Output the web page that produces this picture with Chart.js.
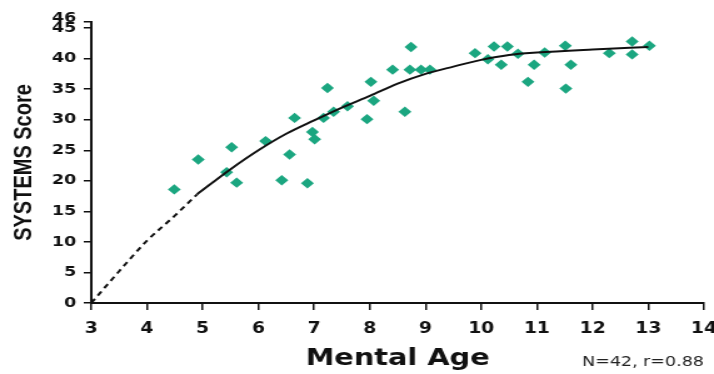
<!DOCTYPE html>
<html>
<head>
<meta charset="utf-8">
<script src="https://cdn.jsdelivr.net/npm/chart.js@4.4.1/dist/chart.umd.min.js"></script>
<style>
  body { margin: 0; background: #fff; }
</style>
</head>
<body>
<!-- the source picture is stretched sideways, so the canvas is drawn narrow and widened -->
<canvas id="myChart" width="571" height="374" style="width:714px;height:374px;display:block"></canvas>
<script>
    // scatter points (mental age, SYSTEMS score)
    const mentalAge = [4.49, 4.92, 5.43, 5.52, 5.61, 6.13, 6.42, 6.56, 6.65, 6.88, 6.97, 7.01, 7.17, 7.24, 7.35, 7.60, 7.95, 8.02, 8.07, 8.41, 8.63, 8.74, 8.72, 8.92, 9.08,
                       9.89, 10.12, 10.23, 10.36, 10.47, 10.66, 10.84, 10.95, 11.14, 11.51, 11.52, 11.61, 12.30, 12.71, 12.71, 13.02]
    const systemsScore = [18.6, 23.5, 21.4, 25.5, 19.7, 26.5, 20.1, 24.3, 30.3, 19.6, 28.0, 26.8, 30.3, 35.2, 31.3, 32.2, 30.1, 36.2, 33.1, 38.2, 31.3, 41.9, 38.2, 38.2, 38.2,
                          40.9, 39.9, 42.0, 39.0, 42.0, 40.8, 36.2, 39.0, 41.0, 42.1, 35.1, 39.0, 40.9, 42.8, 40.7, 42.1]

    // fitted curve
    const fitAge = [4.9, 5.5, 6, 6.5, 7, 7.5, 8, 8.5, 9, 9.5, 10, 10.5, 11, 12, 13]
    const fitScore = [17.8, 21.9, 25.0, 27.7, 29.9, 32.0, 33.9, 35.9, 37.5, 38.7, 39.8, 40.6, 41.0, 41.5, 41.9]

    // dashed extrapolation down to the origin
    const extAge = [3, 3.5, 4, 4.5, 4.9]
    const extScore = [0, 5.2, 10.2, 14.3, 17.8]

    const xTicks = [3, 4, 5, 6, 7, 8, 9, 10, 11, 12, 13, 14]
    const yTicks = [0, 5, 10, 15, 20, 25, 30, 35, 40, 45, 46]

    const xTitle = 'Mental Age'
    const yTitle = 'SYSTEMS Score'
    const noteText = 'N=42, r=0.88'

    function pairs(xs, ys) {
      return xs.map(function (x, i) { return {x: x, y: ys[i]} })
    }

    // the "N=..., r=..." note at bottom right
    const notePlugin = {
      id: 'note',
      afterDraw(chart) {
        const ctx = chart.ctx
        ctx.save()
        ctx.font = '14px "DejaVu Sans"'
        ctx.fillStyle = '#222'
        ctx.textAlign = 'right'
        ctx.textBaseline = 'alphabetic'
        ctx.fillText(noteText, chart.chartArea.right, 366)
        ctx.restore()
      }
    }

    var ctx = document.getElementById('myChart').getContext('2d');
    var chart = new Chart(ctx, {
      type: 'scatter',
      data: {
        datasets: [{
          label: 'fit',
          data: pairs(fitAge, fitScore),
          showLine: true,
          borderColor: '#111',
          borderWidth: 2,
          pointRadius: 0,
          cubicInterpolationMode: 'monotone'
        }, {
          label: 'extrapolation',
          data: pairs(extAge, extScore),
          showLine: true,
          borderColor: '#111',
          borderWidth: 2,
          borderDash: [5, 4],
          pointRadius: 0,
          cubicInterpolationMode: 'monotone'
        }, {
          label: 'children',
          data: pairs(mentalAge, systemsScore),
          pointStyle: 'rectRot',
          pointRadius: 5.2,
          backgroundColor: '#1ba680',
          borderColor: '#1ba680',
          borderWidth: 0
        }]
      },
      options: {
        responsive: false,
        devicePixelRatio: 1,
        animation: false,
        layout: { padding: { top: 22, right: 8, bottom: 0, left: 0 } },
        plugins: {
          legend: { display: false },
          tooltip: { enabled: false }
        },
        scales: {
          x: {
            type: 'linear',
            min: 3,
            max: 14,
            afterBuildTicks: function (scale) { scale.ticks = xTicks.map(function (v) { return {value: v} }) },
            afterFit: function (scale) { scale.height = 71; scale.paddingLeft = 0; scale.paddingRight = 0 },
            grid: { drawOnChartArea: false, drawTicks: true, tickLength: 7, color: '#111', lineWidth: 1.5 },
            border: { color: '#111', width: 2 },
            ticks: {
              autoSkip: false,
              maxRotation: 0,
              padding: 10,
              color: '#111',
              font: { family: 'DejaVu Sans', size: 15, weight: 'bold' }
            },
            title: {
              display: true,
              text: xTitle,
              color: '#111',
              padding: { top: 0, bottom: 1 },
              font: { family: 'DejaVu Sans', size: 23, weight: 'bold' }
            }
          },
          y: {
            min: 0,
            max: 46,
            afterBuildTicks: function (scale) { scale.ticks = yTicks.map(function (v) { return {value: v} }) },
            afterFit: function (scale) { scale.width = 73; scale.paddingTop = 0; scale.paddingBottom = 0 },
            grid: { drawOnChartArea: false, drawTicks: true, tickLength: 6, color: '#111', lineWidth: 1.5 },
            border: { color: '#111', width: 2 },
            ticks: {
              autoSkip: false,
              padding: 6,
              color: '#111',
              // 46 sits just above 45, so nudge it up a little
              callback: function (value) { return value === 46 ? ['46', ''] : String(value) },
              font: function (c) {
                if (c.tick && c.tick.value === 46) return { family: 'DejaVu Sans', size: 14, weight: 'bold', lineHeight: 0.5 }
                return { family: 'DejaVu Sans', size: 14, weight: 'bold' }
              }
            },
            title: {
              display: true,
              text: yTitle,
              color: '#111',
              padding: { top: 7, bottom: 0 },
              font: { family: 'Liberation Sans', size: 20, weight: 'bold' }
            }
          }
        }
      },
      plugins: [notePlugin]
    });
</script>
</body>
</html>
